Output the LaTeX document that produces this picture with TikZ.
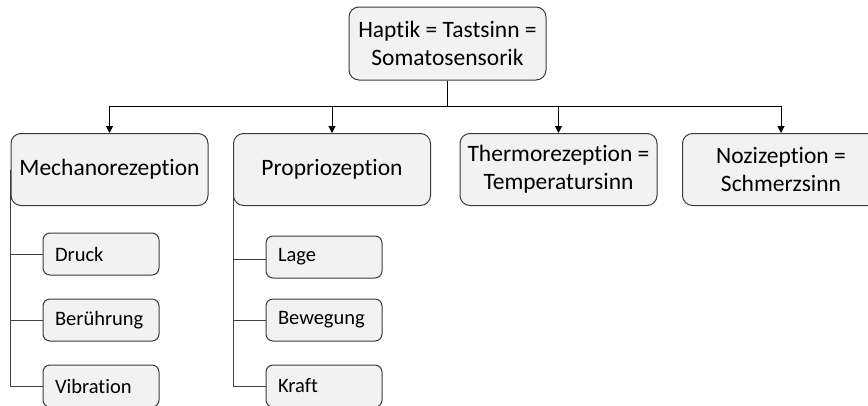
\documentclass[tikz,border=0pt]{standalone}
\usepackage{fontspec}
\setmainfont[Ligatures=NoCommon]{Carlito}
\usetikzlibrary{backgrounds,arrows.meta}
\definecolor{boxfill}{HTML}{F2F2F2}
\definecolor{boxline}{HTML}{3A3A3A}
\tikzset{
  bigbox/.style={draw=boxline, fill=boxfill, line width=1pt, rounded corners=10pt,
    minimum width=197pt, minimum height=72pt, align=center, inner sep=0pt,
    font=\fontsize{23.5}{28}\selectfont},
  smallbox/.style={draw=boxline, fill=boxfill, line width=1pt, rounded corners=7pt,
    minimum height=42pt, text width=92pt, align=left, inner xsep=12pt, inner ysep=0pt,
    font=\fontsize{20.5}{24}\selectfont},
  conn/.style={draw=black, line width=1pt},
  arr/.style={conn, -{Triangle[length=7pt,width=7pt]}},
  sub/.style={draw=black!75, line width=1pt}
}
\begin{document}
\begin{tikzpicture}[x=1pt,y=-1pt]
\useasboundingbox (0,0) rectangle (868,405);
\clip (0,0) rectangle (868,405);
\node[bigbox, minimum height=73pt] (root) at (447.5,43.5) {Haptik = Tastsinn =\\Somatosensorik};
\node[bigbox] (mech) at (109.5,169.5) {Mechanorezeption};
\node[bigbox] (prop) at (332,169.5) {Propriozeption};
\node[bigbox] (thermo) at (558.5,169.5) {Thermorezeption =\\Temperatursinn};
\node[bigbox] (nozi) at (781,169.5) {Nozizeption =\\Schmerzsinn};
\node[smallbox] (druck) at (101,254) {Druck};
\node[smallbox] (beruehr) at (101,320) {Berührung};
\node[smallbox] (vib) at (101,386) {Vibration};
\node[smallbox] (lage) at (324,257) {Lage};
\node[smallbox] (beweg) at (324,320) {Bewegung};
\node[smallbox] (kraft) at (324,386) {Kraft};
\coordinate (bus) at (447.5,106);
\begin{scope}[on background layer]
\draw[conn] (root.south) -- (bus);
\draw[arr] (bus) -| (mech.north);
\draw[arr] (bus) -| (prop.north);
\draw[arr] (bus) -| (thermo.north);
\draw[arr] (bus) -| (nozi.north);
\draw[sub] (mech.west) |- (druck.west);
\draw[sub] (mech.west) |- (beruehr.west);
\draw[sub] (mech.west) |- (vib.west);
\draw[sub] (prop.west) |- ([yshift=-2pt]lage.west);
\draw[sub] (prop.west) |- (beweg.west);
\draw[sub] (prop.west) |- (kraft.west);
\end{scope}
\end{tikzpicture}
\end{document}
